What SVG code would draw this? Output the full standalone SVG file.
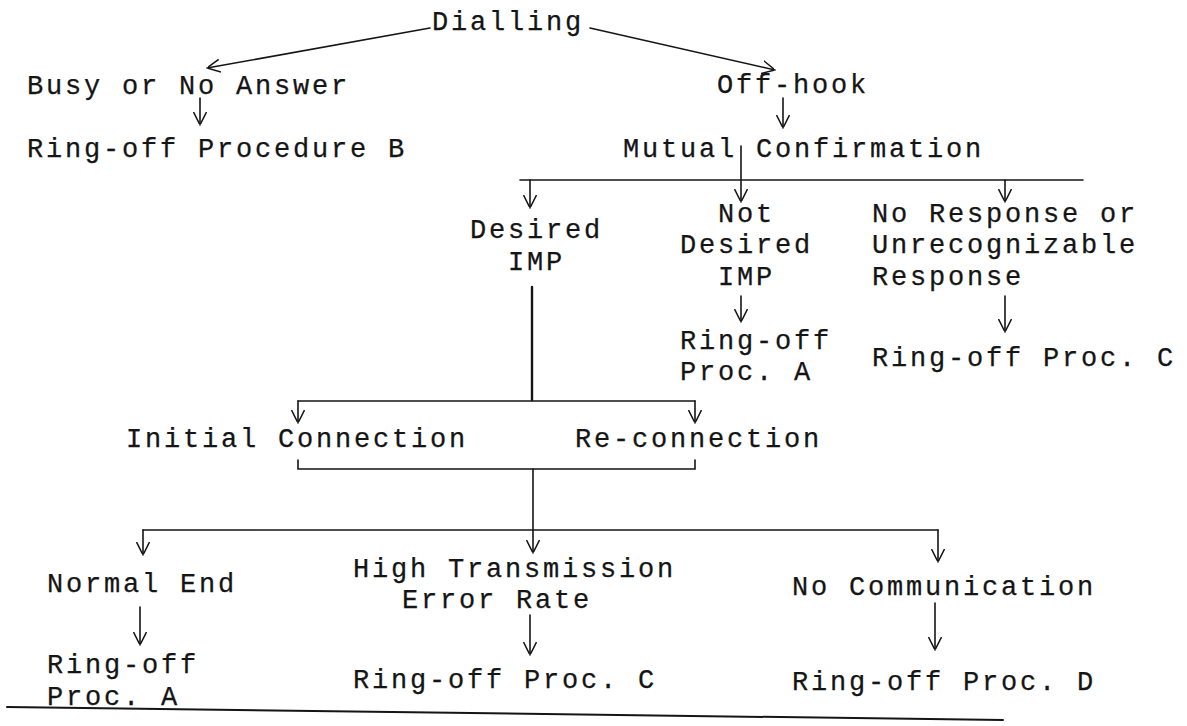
<svg xmlns="http://www.w3.org/2000/svg" width="1187" height="726" viewBox="0 0 1187 726">
  <style>
    text { font-family: "Liberation Mono", "Courier New", monospace; font-size: 27px; letter-spacing: 2.8px; fill: #151515; stroke: #151515; stroke-width: 0.25px; }
    .ln { fill: none; stroke: #151515; stroke-width: 1.6; stroke-linecap: round; }
    .heavy { stroke-width: 2.4; }
    .arr { marker-end: url(#head); }
  </style>
  <defs>
    <marker id="head" viewBox="0 0 12 14" refX="13" refY="7" markerWidth="12" markerHeight="14" markerUnits="userSpaceOnUse" orient="auto">
      <path d="M0,0.5 L13,7 L0,13.5" fill="none" stroke="#151515" stroke-width="1.5"/>
    </marker>
  </defs>
  <rect width="1187" height="726" fill="#fff"/>

  <!-- connectors -->
  <g id="connectors">
    <path class="ln arr" d="M430,28 L207,68"/>
    <path class="ln arr" d="M590,28 L775,70"/>
    <path class="ln arr" d="M200,98 L200,125"/>
    <path class="ln arr" d="M783,98 L783,128"/>
    <!-- branch from Mutual Confirmation -->
    <path class="ln" d="M520,180 L1083,180"/>
    <path class="ln arr" d="M741,146 L741,202"/>
    <path class="ln arr" d="M530,180 L530,208"/>
    <path class="ln arr" d="M1005,180 L1005,202"/>
    <path class="ln arr" d="M741,296 L741,322"/>
    <path class="ln arr" d="M1005,296 L1005,332"/>
    <!-- Desired IMP to connection type -->
    <path class="ln heavy" d="M532,287 L532,400"/>
    <path class="ln" d="M298,401 L695,401"/>
    <path class="ln arr" d="M298,401 L298,423"/>
    <path class="ln arr" d="M695,401 L695,423"/>
    <path class="ln" d="M298,460 L298,469 L695,469 L695,460"/>
    <!-- to outcomes -->
    <path class="ln arr" d="M533,469 L533,553"/>
    <path class="ln" d="M143,530 L938,530"/>
    <path class="ln arr" d="M143,530 L143,555"/>
    <path class="ln arr" d="M938,530 L938,562"/>
    <path class="ln arr" d="M140,607 L140,645"/>
    <path class="ln arr" d="M530,615 L530,655"/>
    <path class="ln arr" d="M935,603 L935,650"/>
    <!-- rule under the chart -->
    <path class="ln" d="M7,707 L1003,720" style="stroke-width:2"/>
  </g>

  <g id="dialling"><text x="432" y="30">Dialling</text></g>
  <g id="busy"><text x="27" y="94">Busy or No Answer</text></g>
  <g id="ringoff-b"><text x="27" y="157">Ring-off Procedure B</text></g>
  <g id="offhook"><text x="717" y="93">Off-hook</text></g>
  <g id="mutual"><text x="623" y="157">Mutual Confirmation</text></g>
  <g id="desired"><text x="470" y="238">Desired</text><text x="508" y="270">IMP</text></g>
  <g id="not-desired"><text x="718" y="222">Not</text><text x="680" y="253">Desired</text><text x="718" y="285">IMP</text></g>
  <g id="no-response"><text x="872" y="222">No Response or</text><text x="872" y="253">Unrecognizable</text><text x="872" y="285">Response</text></g>
  <g id="ringoff-a1"><text x="680" y="349">Ring-off</text><text x="680" y="380">Proc. A</text></g>
  <g id="ringoff-c1"><text x="872" y="366">Ring-off Proc. C</text></g>
  <g id="initial"><text x="126" y="447">Initial Connection</text></g>
  <g id="reconnection"><text x="575" y="447">Re-connection</text></g>
  <g id="normal-end"><text x="47" y="592">Normal End</text></g>
  <g id="high-error"><text x="353" y="577">High Transmission</text><text x="402" y="608">Error Rate</text></g>
  <g id="no-comm"><text x="792" y="595">No Communication</text></g>
  <g id="ringoff-a2"><text x="47" y="673">Ring-off</text><text x="47" y="705">Proc. A</text></g>
  <g id="ringoff-c2"><text x="353" y="688">Ring-off Proc. C</text></g>
  <g id="ringoff-d"><text x="792" y="690">Ring-off Proc. D</text></g>
</svg>
